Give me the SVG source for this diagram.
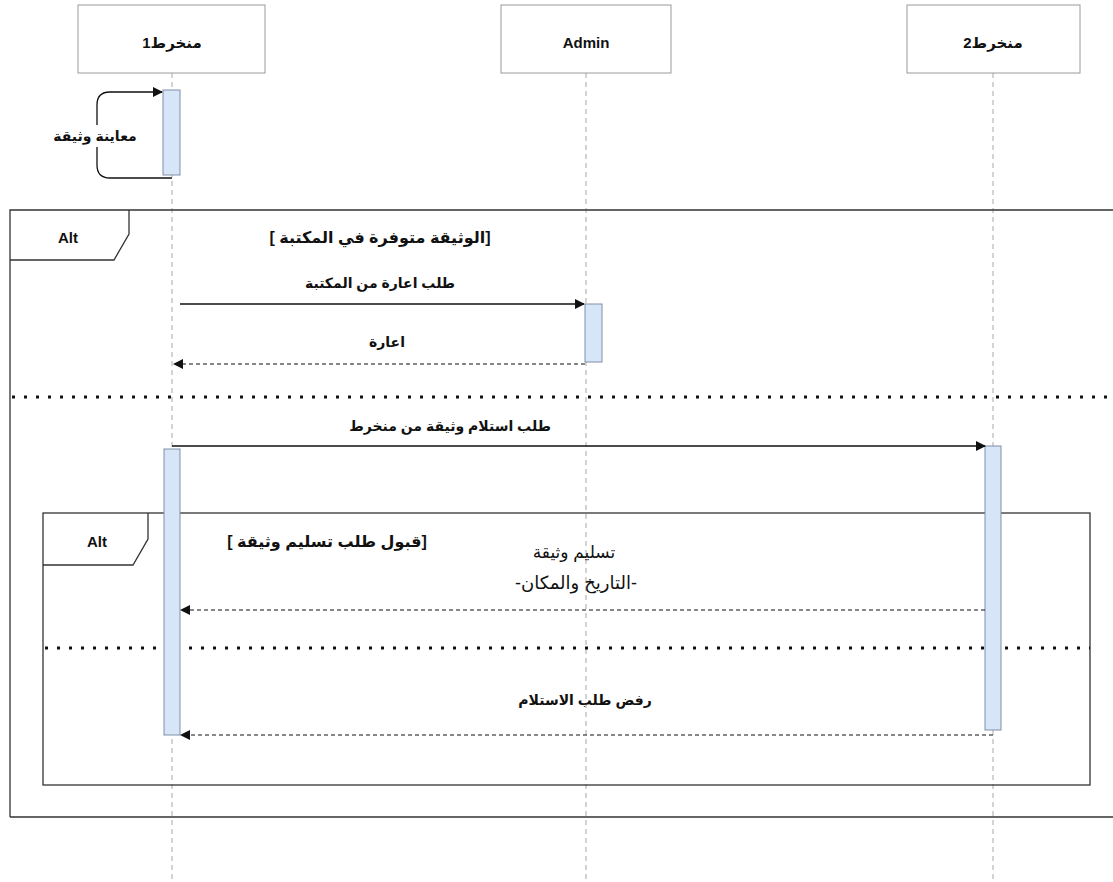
<svg xmlns="http://www.w3.org/2000/svg" width="1113" height="882" viewBox="0 0 1113 882">
<defs>
<style>
.box{fill:#fff;stroke:#9a9a9a;stroke-width:1}
.life{stroke:#a8a8a8;stroke-width:1;stroke-dasharray:5,4;fill:none}
.act{fill:#d6e5f8;stroke:#7f8fa6;stroke-width:1}
.frame{fill:none;stroke:#333;stroke-width:1.3}
.sep{stroke:#111;stroke-width:3;stroke-dasharray:3,9;fill:none}
.msg{stroke:#111;stroke-width:1.3;fill:none}
.ret{stroke:#111;stroke-width:1.2;stroke-dasharray:4,3;fill:none}
text{font-family:"Liberation Sans","DejaVu Sans",Arial,sans-serif;fill:#111;text-anchor:middle}
.h{font-size:15px;font-weight:bold}
.l{font-size:14px;font-weight:bold}
.g{font-size:16px;font-weight:bold}
.n{font-size:17px}
.n2{font-size:18px}
</style>
<marker id="arr" markerWidth="10" markerHeight="10" refX="9" refY="5" orient="auto" markerUnits="userSpaceOnUse">
<path d="M0,0 L10,5 L0,10 z" fill="#111"/>
</marker>
</defs>
<rect width="1113" height="882" fill="#fff"/>

<g id="lifelines">
<line class="life" x1="172" y1="73" x2="172" y2="882"/>
<line class="life" x1="586" y1="73" x2="586" y2="882"/>
<line class="life" x1="993" y1="73" x2="993" y2="882"/>
</g>

<g id="node-m1"><rect class="box" x="78" y="5" width="187" height="68"/><text class="h" x="172" y="48">منخرط1</text></g>
<g id="node-admin"><rect class="box" x="501" y="5" width="170" height="68"/><text class="h" x="586" y="48">Admin</text></g>
<g id="node-m2"><rect class="box" x="907" y="5" width="173" height="68"/><text class="h" x="993" y="48">منخرط2</text></g>

<g id="frame-outer">
<path class="frame" d="M10,817 V210 H1120 M10,817 H1120"/>
<path class="frame" d="M10,260 H114 L129,234 V210"/>
<text class="h" x="68" y="243">Alt</text>
<text class="g" x="380" y="243" direction="rtl">[الوثيقة متوفرة في المكتبة ]</text>
<line class="sep" x1="12" y1="397" x2="1113" y2="397"/>
</g>

<g id="frame-inner">
<rect class="frame" x="43" y="513" width="1047" height="272"/>
<path class="frame" d="M43,565 H133 L148,539 V513"/>
<text class="h" x="97" y="547">Alt</text>
<text class="g" x="327" y="547" direction="rtl">[قبول طلب تسليم وثيقة ]</text>
<line class="sep" x1="45" y1="648" x2="1090" y2="648"/>
</g>

<g id="activations">
<rect class="act" x="163" y="90" width="17" height="85"/>
<rect class="act" x="585" y="304" width="17" height="58"/>
<rect class="act" x="164" y="449" width="16" height="286"/>
<rect class="act" x="985" y="446" width="16" height="284"/>
</g>

<g id="connectors">
<path class="msg" d="M172,178 H110 Q97,178 97,165 V105 Q97,92 110,92 H162" marker-end="url(#arr)"/>
<rect x="50" y="125" width="95" height="22" fill="#fff"/>
<text class="l" x="95" y="141">معاينة وثيقة</text>

<line class="msg" x1="180" y1="304" x2="584" y2="304" marker-end="url(#arr)"/>
<text class="l" x="380" y="288">طلب اعارة من المكتبة</text>

<line class="ret" x1="585" y1="364" x2="174" y2="364" marker-end="url(#arr)"/>
<text class="l" x="387" y="347">اعارة</text>

<line class="msg" x1="172" y1="446" x2="985" y2="446" marker-end="url(#arr)"/>
<text class="l" x="450" y="431">طلب استلام وثيقة من منخرط</text>

<line class="ret" x1="985" y1="610" x2="181" y2="610" marker-end="url(#arr)"/>
<text class="n" x="574" y="558">تسليم وثيقة</text>
<text class="n2" x="576" y="589">-التاريخ والمكان-</text>

<line class="ret" x1="993" y1="735" x2="181" y2="735" marker-end="url(#arr)"/>
<text class="l" x="585" y="705">رفض طلب الاستلام</text>
</g>
</svg>
